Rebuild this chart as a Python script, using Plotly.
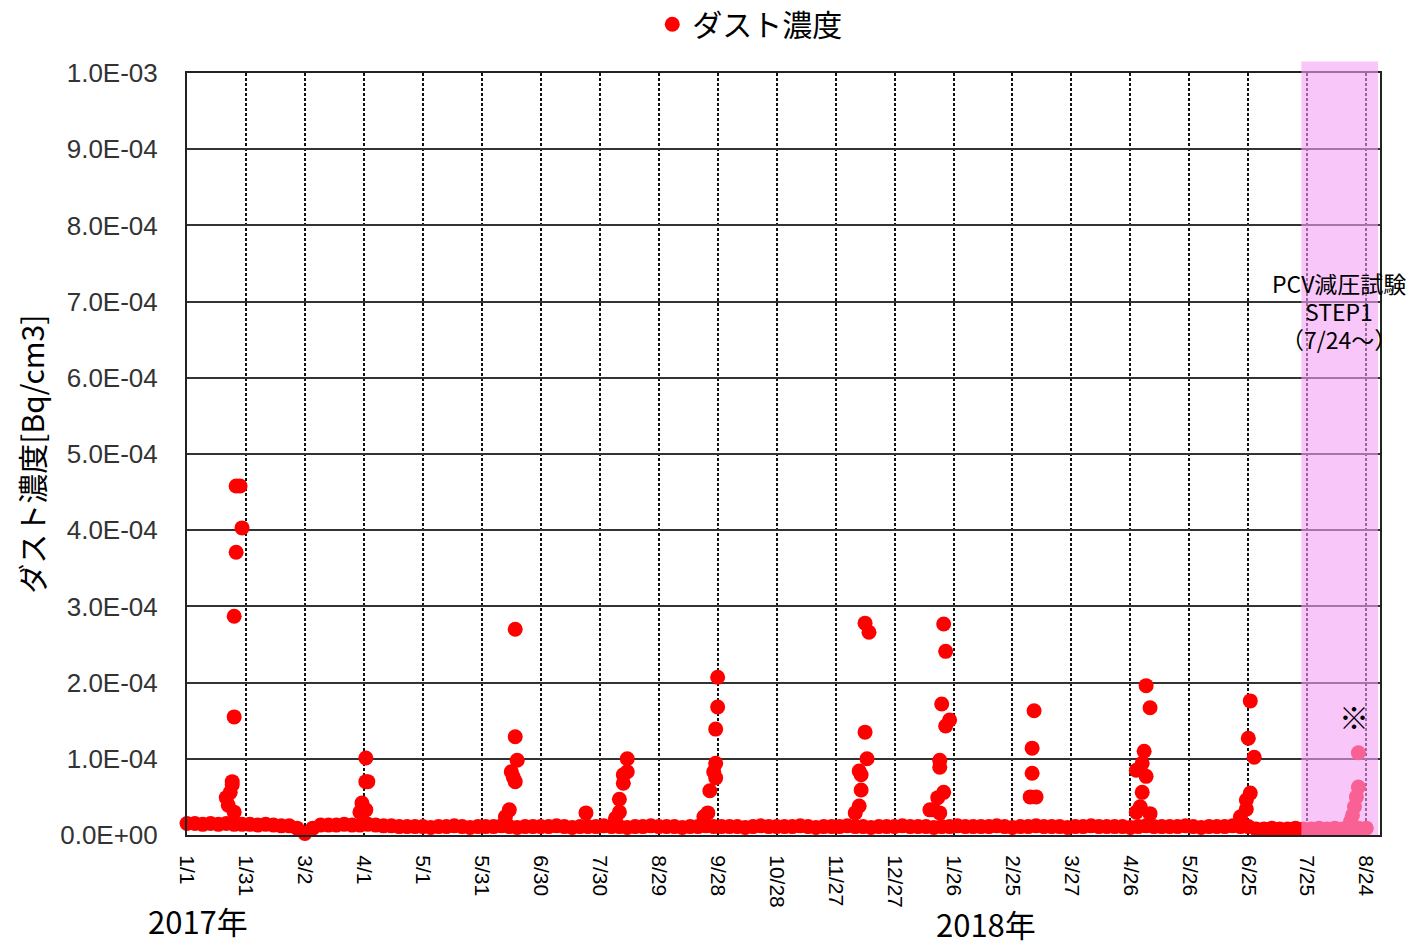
import pandas as pd
import plotly.graph_objects as go

# ---------------- data ----------------
tick_dates = ["2017-01-01", "2017-01-31", "2017-03-02", "2017-04-01", "2017-05-01", "2017-05-31",
              "2017-06-30", "2017-07-30", "2017-08-29", "2017-09-28", "2017-10-28", "2017-11-27",
              "2017-12-27", "2018-01-26", "2018-02-25", "2018-03-27", "2018-04-26", "2018-05-26",
              "2018-06-25", "2018-07-25", "2018-08-24"]
tick_labels = ["1/1", "1/31", "3/2", "4/1", "5/1", "5/31", "6/30", "7/30", "8/29", "9/28", "10/28",
               "11/27", "12/27", "1/26", "2/25", "3/27", "4/26", "5/26", "6/25", "7/25", "8/24"]
y_tickvals = [0, 1e-4, 2e-4, 3e-4, 4e-4, 5e-4, 6e-4, 7e-4, 8e-4, 9e-4, 1e-3]
y_ticktext = ["0.0E+00", "1.0E-04", "2.0E-04", "3.0E-04", "4.0E-04", "5.0E-04",
              "6.0E-04", "7.0E-04", "8.0E-04", "9.0E-04", "1.0E-03"]

# baseline readings, every 4 days from 2017-01-01 (values in Bq/cm3 x 1e-6)
base_dates = pd.date_range("2017-01-01", "2018-08-24", freq="4D")
base_vals_e6 = [
    15, 15, 14, 15, 14, 15, 14, 14, 14, 13, 14, 13, 12, 12, 9, 2, 9, 13, 13, 13,
    14, 13, 13, 14, 13, 12, 12, 11, 11, 11, 11, 10, 11, 11, 12, 11, 10, 11, 11, 11,
    12, 11, 10, 11, 11, 11, 11, 12, 11, 10, 11, 11, 11, 12, 11, 11, 10, 11, 11, 12,
    11, 11, 11, 10, 11, 11, 12, 11, 11, 11, 11, 10, 11, 12, 11, 11, 11, 11, 12, 11,
    10, 11, 11, 11, 12, 11, 11, 10, 11, 11, 11, 12, 11, 11, 11, 10, 11, 11, 12, 11,
    11, 11, 11, 12, 11, 10, 11, 11, 12, 11, 11, 11, 10, 11, 11, 12, 11, 11, 11, 11,
    10, 11, 12, 11, 11, 11, 11, 12, 11, 10, 11, 11, 11, 12, 11, 11, 8, 8, 9, 8,
    8, 9, 8, 8, 9, 8, 9, 8, 8, 9, 9,
]

# spike readings
spike_dates = [
    "2017-01-26", "2017-01-28", "2017-01-29", "2017-01-26", "2017-01-25", "2017-01-25",
    "2017-01-24", "2017-01-23", "2017-01-21", "2017-01-24", "2017-01-22", "2017-01-25",
    "2017-04-02", "2017-04-02", "2017-04-03", "2017-03-31", "2017-04-02", "2017-03-30",
    "2017-06-17", "2017-06-17", "2017-06-18", "2017-06-15", "2017-06-17", "2017-06-16", "2017-06-14", "2017-06-12",
    "2017-07-23", "2017-08-13", "2017-08-13", "2017-08-11", "2017-08-11", "2017-08-09", "2017-08-09", "2017-08-07",
    "2017-09-28", "2017-09-28", "2017-09-27", "2017-09-27", "2017-09-26", "2017-09-27", "2017-09-24", "2017-09-23", "2017-09-21",
    "2017-12-12", "2017-12-14", "2017-12-12", "2017-12-13", "2017-12-09", "2017-12-10", "2017-12-10", "2017-12-09", "2017-12-07",
    "2018-01-21", "2018-01-22", "2018-01-20", "2018-01-24", "2018-01-22", "2018-01-19", "2018-01-19", "2018-01-21",
    "2018-01-18", "2018-01-14", "2018-01-16", "2018-01-19",
    "2018-03-08", "2018-03-07", "2018-03-07", "2018-03-06", "2018-03-09",
    "2018-05-04", "2018-05-06", "2018-05-03", "2018-05-02", "2018-04-29", "2018-05-04", "2018-05-02",
    "2018-05-01", "2018-05-06", "2018-04-29",
    "2018-06-26", "2018-06-25", "2018-06-28", "2018-06-26", "2018-06-24", "2018-06-24", "2018-06-21",
    "2018-08-20", "2018-08-20", "2018-08-19", "2018-08-18", "2018-08-17", "2018-08-16",
]
spike_vals_e6 = [
    458, 458, 403, 371, 287, 155,
    66, 56, 49, 70, 39, 30,
    101, 70, 70, 42, 33, 30,
    270, 129, 98, 83, 70, 76, 33, 24,
    29, 100, 83, 79, 68, 47, 30, 22,
    207, 168, 139, 94, 83, 75, 58, 29, 24,
    278, 266, 135, 100, 84, 79, 59, 38, 29,
    277, 241, 172, 151, 143, 98, 89, 56,
    49, 33, 33, 29,
    163, 114, 81, 50, 50,
    196, 167, 110, 94, 85, 77, 56,
    37, 28, 30,
    176, 127, 102, 55, 46, 34, 24,
    108, 63, 50, 37, 26, 18,
]

series_name = "ダスト濃度"
note_lines = ["PCV減圧試験", "STEP1", "（7/24～）"]
note_line_y = [7.24e-4, 6.88e-4, 6.51e-4]

# ---------------- figure ----------------
x_all = list(base_dates.strftime("%Y-%m-%d")) + spike_dates
y_all = [v * 1e-6 for v in base_vals_e6] + [v * 1e-6 for v in spike_vals_e6]

fig = go.Figure()
fig.add_trace(go.Scatter(
    x=x_all, y=y_all, mode="markers", name=series_name,
    marker=dict(color="#FF0000", size=15, line=dict(width=0)),
    cliponaxis=False,
))

jp = "Noto Sans CJK JP"
num = "Liberation Sans"

annotations = [
    dict(text="ダスト濃度[Bq/cm3]", textangle=-90, xref="paper", yref="paper",
         x=-0.131, y=0.5, xanchor="center", yanchor="middle", showarrow=False,
         font=dict(family=jp, size=30, color="black")),
    dict(text="2017年", xref="paper", yref="paper", x=-0.034, y=-0.112,
         xanchor="left", yanchor="middle", showarrow=False,
         font=dict(family=jp, size=31, color="black")),
    dict(text="2018年", xref="paper", yref="paper", x=0.626, y=-0.116,
         xanchor="left", yanchor="middle", showarrow=False,
         font=dict(family=jp, size=31, color="black")),
    dict(text="※", xref="x", yref="y", x="2018-08-18", y=1.56e-4,
         xanchor="center", yanchor="middle", showarrow=False,
         font=dict(family=jp, size=30, color="black")),
]
for line, yv in zip(note_lines, note_line_y):
    annotations.append(dict(text=line, xref="x", yref="y", x="2018-08-10", y=yv,
                            xanchor="center", yanchor="middle", showarrow=False,
                            font=dict(family=jp, size=23, color="black")))

fig.update_layout(
    width=1412, height=945,
    margin=dict(l=187, r=32, t=73, b=110, autoexpand=False),
    paper_bgcolor="white", plot_bgcolor="white",
    showlegend=True,
    legend=dict(orientation="h", x=0.39, xanchor="left", y=1.064, yanchor="middle",
                font=dict(family=jp, size=30, color="black")),
    xaxis=dict(
        type="date", range=["2017-01-01", "2018-08-31"],
        tickmode="array", tickvals=tick_dates, ticktext=tick_labels,
        tickangle=90, tickfont=dict(family=num, size=21, color="black"),
        ticks="", ticklabelstandoff=14,
        showgrid=True, gridcolor="#111111", gridwidth=1.5, griddash="3px,2px",
        showline=True, linecolor="#222222", linewidth=2, mirror=True,
        zeroline=False,
    ),
    yaxis=dict(
        range=[0, 1e-3], tickmode="array", tickvals=y_tickvals, ticktext=y_ticktext,
        tickfont=dict(family=num, size=26, color="#333333"),
        ticks="", ticklabelstandoff=22,
        showgrid=True, gridcolor="#333333", gridwidth=1.5,
        showline=True, linecolor="#222222", linewidth=2, mirror=True,
        zeroline=False,
    ),
    shapes=[dict(
        type="rect", xref="x", yref="paper",
        x0="2018-07-22", x1="2018-08-30", y0=0, y1=1.015,
        fillcolor="rgb(245,160,245)", opacity=0.6, line=dict(width=0), layer="above",
    )],
    annotations=annotations,
)

fig.write_html("out.html")
